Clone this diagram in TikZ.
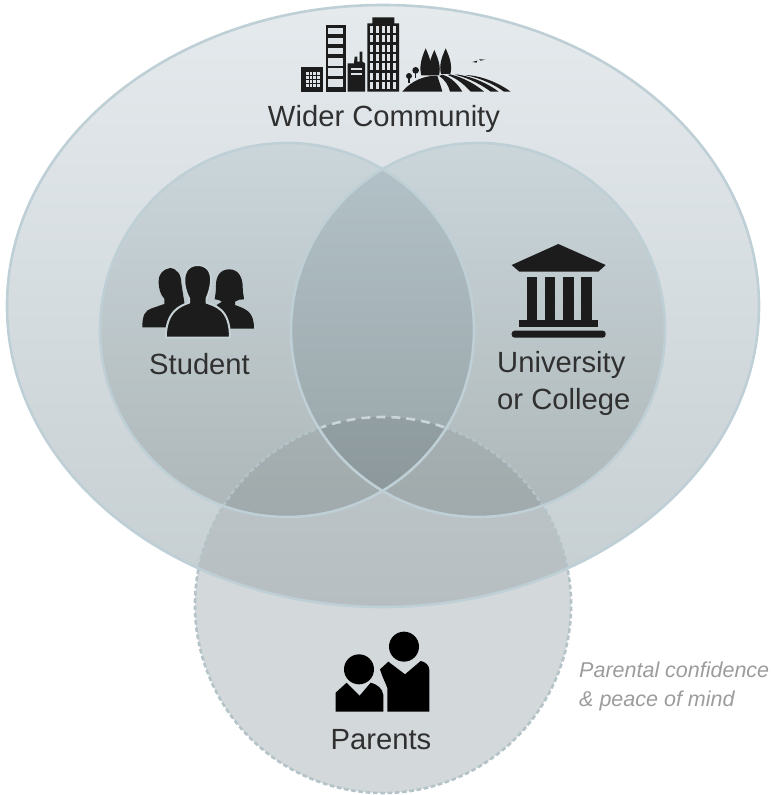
\documentclass[tikz,border=0pt]{standalone}
\usepackage{fontspec}
\setmainfont{Liberation Sans}
\definecolor{outerTop}{HTML}{E5EAED}
\definecolor{outerBot}{HTML}{C5CED1}
\definecolor{discTop}{HTML}{CBD6DB}
\definecolor{discBot}{HTML}{ADB7B9}
\definecolor{lensTop}{HTML}{B4C3C9}
\definecolor{lensBot}{HTML}{96A3A6}
\definecolor{parentFill}{HTML}{D3D8DB}
\definecolor{rim}{HTML}{BFCFD6}
\definecolor{dashRim}{HTML}{B4C3C8}
\definecolor{topDash}{HTML}{C9D5D9}
\definecolor{ink}{HTML}{1C1C1C}
\definecolor{label}{HTML}{303030}
\definecolor{note}{HTML}{9C9C9C}
\definecolor{skyGap}{HTML}{DDE3E6}
\definecolor{halo}{HTML}{C6D1D5}
\tikzset{
  px/.style={x=1pt,y=-1pt},
  zoomed/.style={x=0.33333pt,y=-0.33333pt},
  rimline/.style={draw=rim,line width=2.6pt},
  dashline/.style={draw=dashRim,line width=2.6pt,dash pattern=on 4.5pt off 2.8pt},
  topdashline/.style={draw=topDash,line width=2.6pt,dash pattern=on 9pt off 6pt},
  big/.style={font=\fontsize{29.2}{37}\selectfont,text=label,inner sep=0pt},
  small/.style={font=\itshape\fontsize{21.5}{29}\selectfont,text=note,inner sep=0pt},
  icon/.style={fill=ink,draw=none},
  gap/.style={fill=skyGap,draw=none}
}
\def\outerpath{(383,306) ellipse [x radius=376,y radius=301]}
\def\studentpath{(287,330) circle [radius=187]}
\def\unipath{(478,330) circle [radius=187]}
\def\parentpath{(383,605) circle [radius=188]}
\begin{document}
\begin{tikzpicture}[px]
\useasboundingbox (0,0) rectangle (772,795);
% discs
\fill[parentFill] \parentpath;
\shade[top color=outerTop,bottom color=outerBot] \outerpath;
\shade[top color=discTop,bottom color=discBot] \studentpath;
\shade[top color=discTop,bottom color=discBot] \unipath;
\begin{scope}
  \clip \studentpath;
  \shade[top color=lensTop,bottom color=lensBot] \unipath;
\end{scope}
\begin{scope}
  \clip \parentpath;
  \fill[black,opacity=.075] \outerpath;
\end{scope}
% rims
\draw[dashline] (321.8,427.2) arc [start angle=109,end angle=431,radius=188pt];
\draw[topdashline] (444.2,427.2) arc [start angle=71,end angle=109,radius=188pt];
\draw[rimline] \outerpath;
\draw[rimline] \studentpath;
\draw[rimline] \unipath;
% city icon
\begin{scope}[shift={(280,0)},zoomed]
  \fill[icon] (62,200) rectangle (130,275);
  \foreach \cx in {0,1,2,3} \foreach \cy in {0,1,2,3}
    \fill[gap] ({78+\cx*11},{217+\cy*12}) rectangle +(8,8);
  \fill[icon] (137,75) rectangle (197,275);
  \foreach \ya/\yb in {83/103,113/133,143/163,173/197,205/228,236/262}
    \fill[gap] (145,\ya) rectangle (189,\yb);
  \fill[icon] (203,190) -- (222,190) -- (224,170) -- (232,170) -- (232,185) -- (239,185) -- (239,155) -- (247,155) -- (247,185) -- (255,190) -- (255,275) -- (203,275) -- cycle;
  \fill[gap] (212,205) rectangle (245,211);
  \fill[gap] (212,219) rectangle (245,225);
  \fill[icon] (262,70) -- (277,70) -- (277,52) -- (343,52) -- (343,70) -- (357,70) -- (357,275) -- (262,275) -- cycle;
  \foreach \cx in {0,1,2,3,4} \foreach \ry in {0,...,6}
    \fill[gap] ({271+\cx*17},{78+\ry*28}) rectangle +(9,21);
  % hill and fields
  \fill[icon] (367,275) .. controls (395,240) and (440,225) .. (472,228) .. controls (478,245) and (483,260) .. (487,275) -- cycle;
  \fill[icon] (437,145) .. controls (448,170) and (460,200) .. (452,226) -- (424,226) .. controls (416,200) and (426,170) .. (437,145) -- cycle;
  \fill[icon] (463,150) .. controls (474,175) and (484,200) .. (477,226) -- (449,226) .. controls (442,200) and (452,175) .. (463,150) -- cycle;
  \fill[icon] (497,145) .. controls (508,170) and (518,195) .. (511,222) -- (483,222) .. controls (476,195) and (486,170) .. (497,145) -- cycle;
  \fill[icon] (407,211) circle [radius=10];
  \fill[icon] (405,215) rectangle (409,235);
  \fill[icon] (387,228) circle [radius=9];
  \fill[icon] (385,230) rectangle (389,250);
  \fill[icon] (487,224) .. controls (515,232) and (535,255) .. (547,275) -- (510,275) .. controls (505,255) and (495,240) .. (478,228) -- cycle;
  \fill[icon] (510,223) .. controls (550,232) and (590,255) .. (612,275) -- (572,275) .. controls (555,255) and (530,235) .. (503,225) -- cycle;
  \fill[icon] (535,224) .. controls (585,232) and (630,255) .. (656,275) -- (632,275) .. controls (610,258) and (570,235) .. (525,224) -- cycle;
  \fill[icon] (570,226) .. controls (620,232) and (665,255) .. (692,275) -- (672,275) .. controls (645,255) and (605,235) .. (555,225) -- cycle;
  \fill[icon] (577,186) -- (592,182) -- (590,188) -- cycle;
  \fill[icon] (597,178) -- (616,179) -- (602,182) -- cycle;
\end{scope}
% student icon
\begin{scope}[shift={(120,240)},zoomed]
  \fill[icon] (150,84) .. controls (172,86) and (184,105) .. (184,130) -- (195,200) -- (140,262) -- (67,262) .. controls (67,225) and (75,212) .. (95,205) -- (133,192) -- (133,176) .. controls (122,165) and (116,148) .. (116,125) .. controls (116,100) and (130,88) .. (150,84) -- cycle;
  \fill[icon] (328,88) .. controls (360,88) and (368,120) .. (368,140) .. controls (368,160) and (372,170) .. (372,178) .. controls (362,177) and (352,180) .. (345,185) -- (345,195) .. controls (380,208) and (402,215) .. (402,266) -- (325,266) -- (290,195) -- (306,185) .. controls (298,180) and (292,178) .. (284,178) .. controls (286,165) and (288,155) .. (288,135) .. controls (288,110) and (300,88) .. (328,88) -- cycle;
  \draw[icon,draw=halo,line width=2pt] (233,75) .. controls (265,75) and (275,100) .. (273,125) .. controls (271,150) and (264,165) .. (260,175) -- (260,188) .. controls (285,198) and (330,205) .. (330,293) -- (137,293) .. controls (139,212) and (180,198) .. (207,188) -- (207,175) .. controls (202,165) and (194,150) .. (193,125) .. controls (191,100) and (202,75) .. (233,75) -- cycle;
\end{scope}
% university icon
\begin{scope}[shift={(490,230)},zoomed]
  \fill[icon] (65,105) -- (205,42) -- (347,105) -- (325,125) -- (88,125) -- cycle;
  \foreach \xa in {110,165,220,274}
    \fill[icon] (\xa,140) rectangle +(31,132);
  \fill[icon] (88,270) rectangle (325,290);
  \fill[icon,rounded corners=3pt] (65,302) rectangle (347,323);
\end{scope}
% parents icon
\begin{scope}[shift={(180,400)},zoomed]
  \fill[black] (672,740) circle [radius=45];
  \fill[black] (537,808) circle [radius=45];
  \fill[black] (600,808) -- (625,785) -- (675,823) -- (722,783) .. controls (735,785) and (748,795) .. (748,810) -- (748,935) -- (622,935) -- (622,865) .. controls (618,850) and (608,835) .. (600,808) -- cycle;
  \fill[black] (467,878) -- (500,848) -- (539,887) -- (572,848) .. controls (590,852) and (608,865) .. (610,885) -- (610,935) -- (467,935) -- cycle;
\end{scope}
% labels
\node[big,anchor=base] (community) at (384,126) {Wider Community};
\node[big,anchor=base] (student) at (199.5,374) {Student};
\node[big,anchor=base west,align=left] (university) at (497,409) {University\\or College};
\node[big,anchor=base] (parents) at (381,749) {Parents};
\node[small,anchor=base west,align=left] (confidence) at (579,706) {Parental confidence\\\&{} peace of mind};
\end{tikzpicture}
\end{document}
